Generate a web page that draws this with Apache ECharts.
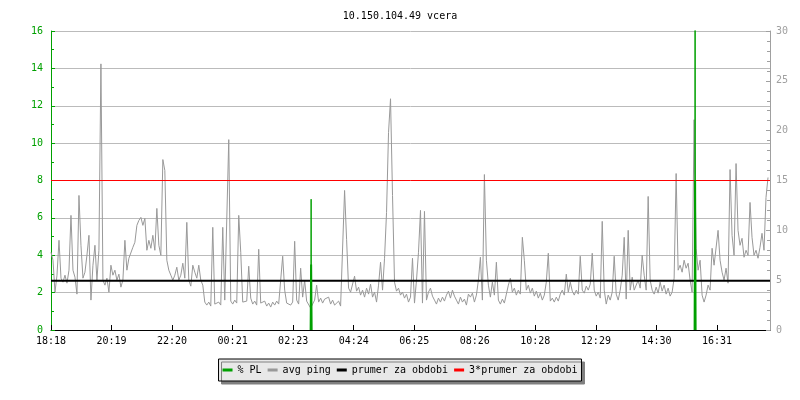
<!DOCTYPE html>
<html><head><meta charset="utf-8">
<script src="https://cdn.jsdelivr.net/npm/echarts/dist/echarts.min.js"></script>
<style>html,body{margin:0;padding:0;background:#fff}#c{width:800px;height:400px}</style>
</head><body><div id="c"></div>
<script>
const titleText = '10.150.104.49 vcera';
const timeLabels = ['18:18','20:19','22:20','00:21','02:23','04:24','06:25','08:26','10:28','12:29','14:30','16:31'];
const tickStepMin = 121.25;
const sampleStepMin = 4;
const spanMin = 1440;
const legendNames = ['% PL', 'avg ping', 'prumer za obdobi', '3*prumer za obdobi'];

// avg ping (ms, right axis), one sample every 4 minutes from 18:18
const avgPing = [
 7.8,7.0,3.8,5.5,9.0,5.2,4.8,5.5,4.7,6.0,11.5,6.0,5.3,3.6,13.5,8.5,5.2,5.8,7.5,9.5,
 3.0,6.5,8.5,5.0,8.0,26.7,5.0,4.5,5.2,3.8,6.5,5.5,6.0,5.0,5.6,4.3,5.0,9.0,6.0,7.2,
 7.0,8.3,8.8,10.5,11.0,11.3,10.5,11.2,8.0,9.0,8.2,9.5,8.0,12.2,8.5,7.5,17.1,16.0,7.0,6.0,
 5.5,5.0,5.5,6.3,5.0,5.5,6.7,5.2,10.8,5.0,4.4,6.5,
 5.8,5.2,6.5,5.0,4.5,2.8,2.5,2.8,2.4,10.3,2.6,2.4,2.8,2.5,10.3,3.0,2.8,19.1,2.9,2.6,
 3.0,2.7,11.5,7.8,2.8,2.6,2.9,6.4,3.2,2.6,2.9,2.5,8.1,2.7,2.5,2.9,2.4,2.7,2.3,2.8,
 2.5,2.9,2.6,2.8,7.4,4.0,2.7,2.9,2.5,2.8,8.9,3.0,2.6,6.2,3.3,5.0,2.9,2.7,2.2,2.6,
 3.0,4.5,2.8,3.2,2.7,3.1,2.9,3.3,2.6,3.0,2.5,
 2.6,2.9,2.4,2.3,14.0,9.1,4.2,3.8,4.0,5.4,3.9,4.3,3.5,4.0,3.3,4.2,3.6,4.6,3.3,3.8,
 2.8,4.5,6.8,4.0,7.2,11.8,19.8,23.2,13.5,4.8,3.9,4.2,3.5,3.8,3.2,3.6,2.8,3.3,7.2,2.7,
 5.0,7.8,12.0,2.7,11.9,3.0,3.8,4.2,3.4,3.0,2.6,3.2,2.8,3.3,2.9,3.5,3.9,3.2,4.0,3.4,
 3.0,2.6,3.3,2.8,3.1,2.5,3.6,3.3,3.7,2.8,3.5,5.0,7.3,
 3.0,15.6,7.0,4.5,3.3,4.8,3.5,6.8,3.0,2.6,3.1,2.7,3.6,4.5,5.2,3.8,4.2,3.5,4.0,3.6,
 9.3,7.0,4.0,4.5,3.7,4.2,3.4,3.9,3.2,3.7,3.0,3.5,4.8,7.7,2.9,3.2,2.8,3.3,2.9,3.6,
 4.0,3.5,5.6,3.8,4.8,3.9,3.5,4.0,3.6,7.4,4.0,3.7,4.4,4.0,4.6,7.7,4.0,3.4,3.8,3.2,
 10.9,4.0,2.6,3.5,3.0,3.8,7.4,3.6,3.0,4.0,5.5,9.3,
 3.1,10.0,4.0,5.3,4.0,3.8,5.0,4.2,7.5,5.5,4.0,13.4,5.0,4.0,3.6,4.3,3.7,4.8,3.9,4.5,
 3.6,4.2,3.4,3.8,5.2,15.7,6.0,6.5,5.8,7.0,6.2,6.7,5.0,3.8,21.1,8.2,6.0,7.0,3.5,2.8,
 3.5,4.5,4.0,8.2,6.5,6.7,10.0,7.0,5.8,5.0,6.2,4.7,16.1,9.5,7.5,16.7,10.0,8.5,9.2,7.3,
 8.0,7.5,12.8,9.3,7.5,8.0,7.2,8.3,9.7,8.0,13.3,15.3
];

// packet loss (%) spikes, left axis
const plMinutes = [521, 1290];
const plLoss = [3.5, 8.0];
const plPeak = [7.0, 32.0];

const meanPing = 4.95;
const tripleMeanPing = 15.0;

const MONO = '"DejaVu Sans Mono", "Liberation Mono", monospace';
const GREEN = '#00a000';

const pingData = avgPing.map((v, i) => [i * sampleStepMin, v]);
const plSeries = [];
plMinutes.forEach((m, k) => {
  plSeries.push({
    name: '% PL', type: 'line', yAxisIndex: 0, showSymbol: false, symbol: 'none', z: 5,
    itemStyle: { color: GREEN }, lineStyle: { color: GREEN, width: 2 },
    data: [[m - 1, 0], [m, plLoss[k]], [m + 1, 0]]
  });
  plSeries.push({
    name: '% PL', type: 'line', yAxisIndex: 0, showSymbol: false, symbol: 'none', z: 5,
    itemStyle: { color: GREEN }, lineStyle: { color: GREEN, width: 1 },
    data: [[m - 0.5, 0], [m, plPeak[k]], [m + 0.5, 0]]
  });
});

const chart = echarts.init(document.getElementById('c'), null, { renderer: 'canvas' });
chart.setOption({
  animation: false,
  backgroundColor: '#ffffff',
  title: {
    text: titleText, left: 'center', top: 6,
    textStyle: { fontFamily: MONO, fontSize: 10, fontWeight: 'normal', color: '#000' }
  },
  legend: {
    data: legendNames,
    left: 'center', top: 359,
    icon: 'rect', itemWidth: 10, itemHeight: 3, itemGap: 6,
    padding: [6, 4],
    backgroundColor: '#e8e8e8', borderColor: '#000', borderWidth: 1,
    shadowColor: '#808080', shadowBlur: 0, shadowOffsetX: 3, shadowOffsetY: 3,
    textStyle: { fontFamily: MONO, fontSize: 10, color: '#000' }
  },
  grid: { left: 51, right: 30, top: 31, bottom: 70, containLabel: false },
  xAxis: {
    type: 'value', min: 0, max: spanMin, interval: tickStepMin,
    axisLine: { show: true, lineStyle: { color: '#000', width: 1 } },
    axisTick: { show: true, inside: true, length: 5, lineStyle: { color: '#000' } },
    axisLabel: {
      fontFamily: MONO, fontSize: 10, color: '#000', margin: 6, showMaxLabel: false,
      formatter: v => { const i = Math.round(v / tickStepMin); return timeLabels[i] || ''; }
    },
    splitLine: { show: false }
  },
  yAxis: [{
    type: 'value', min: 0, max: 16, interval: 2, position: 'left',
    axisLine: { show: true, lineStyle: { color: GREEN, width: 1 } },
    axisTick: { show: true, inside: true, length: 4, lineStyle: { color: GREEN } },
    minorTick: { show: true, splitNumber: 2, length: 3, lineStyle: { color: GREEN } },
    axisLabel: { fontFamily: MONO, fontSize: 10, color: GREEN, margin: 8 },
    splitLine: { show: true, lineStyle: { color: '#bbbbbb', width: 1 } }
  }, {
    type: 'value', min: 0, max: 30, interval: 5, position: 'right',
    axisLine: { show: true, lineStyle: { color: '#a0a0a0', width: 1 } },
    axisTick: { show: true, inside: true, length: 4, lineStyle: { color: '#a0a0a0' } },
    minorTick: { show: true, splitNumber: 5, length: 3, lineStyle: { color: '#a0a0a0' } },
    axisLabel: { fontFamily: MONO, fontSize: 10, color: '#a0a0a0', margin: 6 },
    splitLine: { show: false }
  }],
  series: [
    {
      name: 'avg ping', type: 'line', yAxisIndex: 1, showSymbol: false, symbol: 'none', z: 2,
      itemStyle: { color: '#999999' }, lineStyle: { color: '#999999', width: 1 },
      data: pingData
    },
    {
      name: 'prumer za obdobi', type: 'line', yAxisIndex: 1, showSymbol: false, symbol: 'none', z: 3,
      itemStyle: { color: '#000' }, lineStyle: { color: '#000', width: 2 },
      data: [[0, meanPing], [spanMin, meanPing]]
    },
    {
      name: '3*prumer za obdobi', type: 'line', yAxisIndex: 1, showSymbol: false, symbol: 'none', z: 3,
      itemStyle: { color: '#ff0000' }, lineStyle: { color: '#ff0000', width: 1 },
      data: [[0, tripleMeanPing], [spanMin, tripleMeanPing]]
    }
  ].concat(plSeries)
});
</script></body></html>
